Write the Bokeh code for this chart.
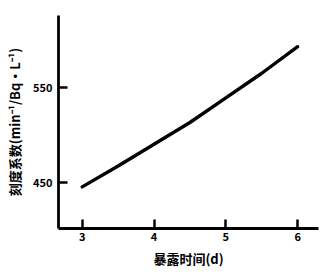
from bokeh.plotting import figure
from bokeh.embed import file_html
from bokeh.resources import INLINE
from bokeh.models import FixedTicker, Range1d

days = [3, 3.5, 4, 4.5, 5, 5.5, 6]
coef = [445, 467, 490, 513, 539, 565, 593]
x_ticks = [3, 4, 5, 6]
y_ticks = [450, 550]
y_title = "刻度系数(min⁻¹/Bq·L⁻¹)"
x_title = "暴露时间(d)"

p = figure(width=323, height=270, output_backend="svg", toolbar_location=None,
           x_range=Range1d(2.67, 6.29), y_range=Range1d(401, 626),
           min_border_left=58, min_border_right=5, min_border_top=15, min_border_bottom=37)
p.outline_line_color = None
p.grid.visible = False
p.background_fill_color = "white"

p.line(days, coef, line_width=3.4, line_color="black", line_cap="round")

for ax in (p.xaxis[0], p.yaxis[0]):
    ax.axis_line_width = 2.8
    ax.axis_line_color = "black"
    ax.major_tick_line_width = 2.5
    ax.major_tick_line_color = "black"
    ax.major_tick_out = 0
    ax.major_tick_in = 9
    ax.minor_tick_line_color = None
    ax.major_label_text_font = "Noto Sans CJK SC"
    ax.major_label_text_font_style = "bold"
    ax.major_label_text_font_size = "11px"
    ax.major_label_text_color = "black"
    ax.axis_label_text_font = "Noto Sans CJK SC"
    ax.axis_label_text_font_style = "bold"
    ax.axis_label_text_font_size = "13px"
    ax.axis_label_text_color = "black"

p.xaxis.ticker = FixedTicker(ticks=x_ticks)
p.yaxis.ticker = FixedTicker(ticks=y_ticks)
p.xaxis.major_label_standoff = 3
p.yaxis.major_label_standoff = 6
p.xaxis.axis_label = x_title
p.yaxis.axis_label = y_title
p.xaxis.axis_label_standoff = 5
p.yaxis.axis_label_standoff = 6

open("out.html", "w").write(file_html(p, INLINE))
